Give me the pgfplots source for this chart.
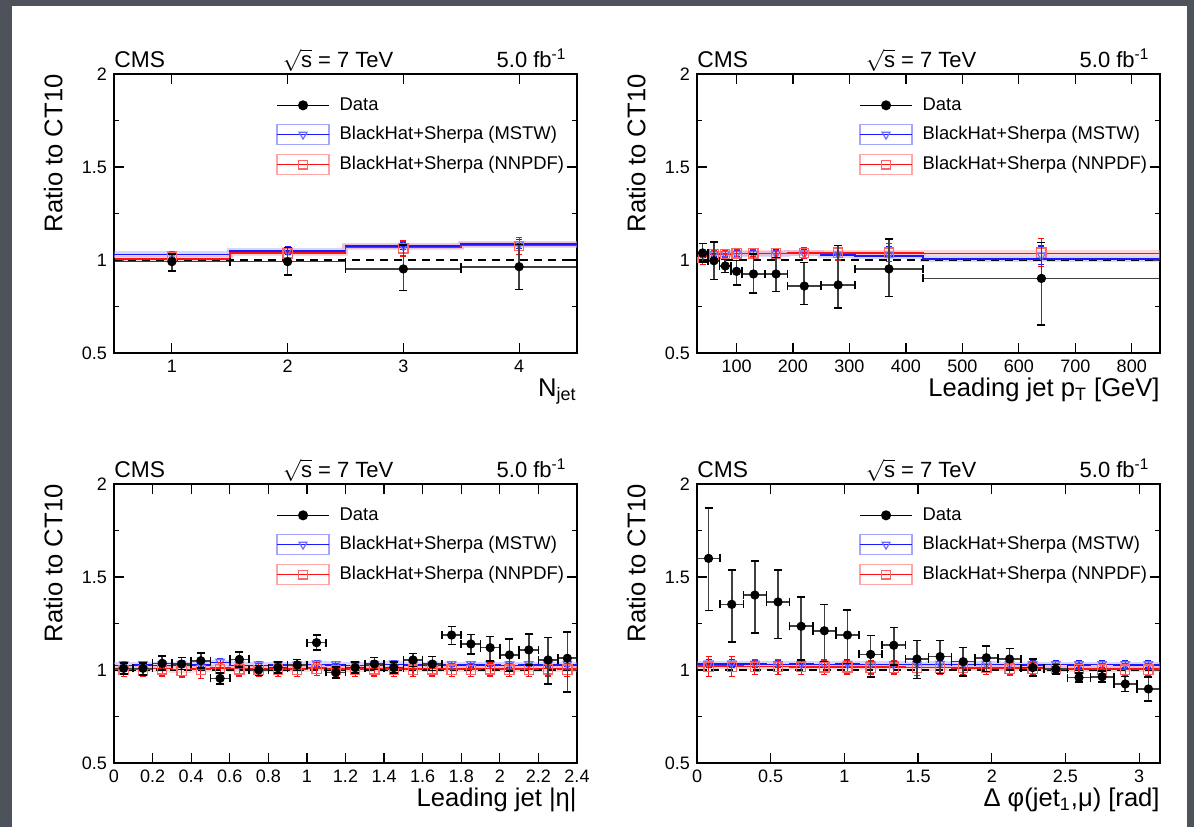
\documentclass[border=0pt]{standalone}
\usepackage{pgfplots}
\pgfplotsset{compat=1.18}
\usepackage{fontspec}
\setmainfont{Liberation Sans}
\definecolor{bggray}{RGB}{78,82,90}
\definecolor{mblue}{RGB}{25,25,255}
\definecolor{lblue}{RGB}{110,110,255}
\definecolor{bandblue}{RGB}{165,165,255}
\definecolor{mred}{RGB}{255,15,15}
\definecolor{lred}{RGB}{255,100,100}
\definecolor{bandred}{RGB}{255,165,165}

\pgfplotsset{
  cmsaxis/.style={
    scale only axis, width=231.5pt, height=139.5pt, anchor=south west,
    ymin=0.5, ymax=2, ytick={0.5,1,1.5,2}, minor y tick num=1,
    tick align=inside, major tick length=5pt, minor tick length=2.5pt,
    every tick/.append style={black, line width=0.6pt},
    axis line style={black, line width=0.7pt},
    tick label style={font=\fontsize{9}{10}\selectfont},
    /pgf/number format/assume math mode=true,
    /pgf/number format/1000 sep={},
    ylabel={Ratio to CT10},
    ylabel style={at={(axis description cs:-0.11,1)}, anchor=south east, inner sep=0pt, font=\fontsize{12.8}{14}\selectfont},
    xlabel style={at={(axis description cs:1,-0.155)}, anchor=base east, inner sep=0pt, font=\fontsize{12.8}{14}\selectfont},
    clip mode=individual,
    legend cell align=left,
    legend style={at={(axis description cs:0.35,0.925)}, anchor=north west, draw=none, fill=none, inner sep=0pt, row sep=4.2pt, column sep=5pt, nodes={inner sep=0pt}, font=\fontsize{9.2}{11}\selectfont},
  },
  legdata/.style={legend image code/.code={\path[draw=none, fill=none] (0pt,-5pt) rectangle (25.8pt,5pt);
     \draw[draw=black, line width=0.8pt, mark=*, mark size=2.1pt, mark options={draw=black, fill=black}, mark repeat=2, mark phase=2] plot coordinates {(0pt,0pt) (12.9pt,0pt) (25.8pt,0pt)};}},
  legmstw/.style={legend image code/.code={\draw[draw=bandblue, fill=none, line width=0.8pt] (0pt,-5pt) rectangle (25.8pt,5pt);
     \draw[draw=mblue, line width=0.8pt, mark=triangle, mark size=2.3pt, mark options={rotate=180, draw=lblue, fill=none, line width=0.6pt}, mark repeat=2, mark phase=2] plot coordinates {(0pt,0pt) (12.9pt,0pt) (25.8pt,0pt)};}},
  legnnpdf/.style={legend image code/.code={\draw[draw=bandred, fill=none, line width=0.8pt] (0pt,-5pt) rectangle (25.8pt,5pt);
     \draw[draw=mred, line width=0.8pt, mark=square, mark size=2.2pt, mark options={draw=lred, fill=none, line width=0.6pt}, mark repeat=2, mark phase=2] plot coordinates {(0pt,0pt) (12.9pt,0pt) (25.8pt,0pt)};}},
  datapts/.style={only marks, black, mark=*, mark size=2.1pt,
    error bars/x dir=both, error bars/x explicit, error bars/y dir=both, error bars/y explicit,
    error bars/error bar style={black!75, line width=0.8pt},
    error bars/error mark options={rotate=90, black, mark size=2pt, line width=0.8pt}},
  mstwpts/.style={only marks, mark=triangle, mark size=2.4pt,
    mark options={rotate=180, draw=lblue, line width=0.6pt},
    error bars/y dir=both, error bars/y explicit,
    error bars/error bar style={mblue, line width=0.6pt},
    error bars/error mark options={rotate=90, mblue, mark size=1.5pt, line width=0.6pt}},
  nnpdfpts/.style={only marks, mark=square, mark size=2.3pt,
    mark options={draw=lred, line width=0.6pt},
    error bars/y dir=both, error bars/y explicit,
    error bars/error bar style={mred, line width=0.6pt},
    error bars/error mark options={rotate=90, mred, mark size=1.5pt, line width=0.6pt}},
  mstwline/.style={const plot, mblue, line width=0.8pt},
  nnpdfline/.style={const plot, mred, line width=0.8pt},
  mstwband/.style={const plot, bandblue, line width=3pt, opacity=0.45},
  nnpdfband/.style={const plot, bandred, line width=3pt, opacity=0.45},
  unitline/.style={black, line width=0.8pt, dash pattern=on 4pt off 3pt},
}

\newcommand{\cmslegend}{%
  \addlegendimage{legdata}\addlegendentry{Data}
  \addlegendimage{legmstw}\addlegendentry{BlackHat+Sherpa (MSTW)}
  \addlegendimage{legnnpdf}\addlegendentry{BlackHat+Sherpa (NNPDF)}
}
\newcommand{\cmstitles}{%
  \node[anchor=base west, inner sep=0pt, font=\fontsize{11.4}{12}\selectfont] at (rel axis cs:0,1.023) {CMS};
  \node[anchor=base, inner sep=0pt, font=\fontsize{11}{12}\selectfont] at (rel axis cs:0.484,1.023) {$\sqrt{\hbox{s}}$ = 7 TeV};
  \node[anchor=base east, inner sep=0pt, font=\fontsize{11}{12}\selectfont] at (rel axis cs:0.978,1.023) {5.0 fb\textsuperscript{-1}};
}

\begin{document}
\begin{tikzpicture}
\path[use as bounding box] (0,0) rectangle (597pt,413.5pt);
\fill[bggray] (0,0) rectangle (597pt,413.5pt);
\fill[white] (6pt,0) rectangle (593.5pt,410.5pt);

% ---------------- Panel 1: N_jet
\begin{axis}[cmsaxis, at={(57pt,237pt)}, xmin=0.5, xmax=4.5, xtick={1,2,3,4}, xlabel={N\textsubscript{jet}}]
\cmslegend
\addplot[forget plot, mstwband] coordinates {(0.5,1.030) (1.5,1.050) (2.5,1.075) (3.5,1.085) (4.5,1.085)};
\addplot[forget plot, nnpdfband] coordinates {(0.5,1.007) (1.5,1.038) (2.5,1.068) (3.5,1.079) (4.5,1.079)};
\addplot[forget plot, unitline] coordinates {(0.5,1) (4.5,1)};
\addplot[forget plot, mstwline] coordinates {(0.5,1.030) (1.5,1.050) (2.5,1.075) (3.5,1.085) (4.5,1.085)};
\addplot[forget plot, nnpdfline] coordinates {(0.5,1.007) (1.5,1.038) (2.5,1.068) (3.5,1.079) (4.5,1.079)};
\addplot[forget plot, mstwpts] table[x=x, y=y, y error=e] {
x y e
1 1.030 0.015
2 1.050 0.020
3 1.075 0.020
4 1.085 0.025
};
\addplot[forget plot, nnpdfpts] table[x=x, y=y, y error=e] {
x y e
1 1.015 0.020
2 1.035 0.030
3 1.062 0.040
4 1.075 0.045
};
\addplot[forget plot, datapts] table[x=x, y=y, x error=ex, y error plus=ep, y error minus=em] {
x y ex ep em
1 0.991 0.5 0.040 0.050
2 0.991 0.5 0.077 0.072
3 0.952 0.5 0.130 0.117
4 0.964 0.5 0.120 0.122
};
\cmstitles
\end{axis}

% ---------------- Panel 2: leading jet pT
\begin{axis}[cmsaxis, at={(348.5pt,237pt)}, xmin=30, xmax=850, xtick={100,200,300,400,500,600,700,800}, xlabel={Leading jet p\textsubscript{T} [GeV]}]
\cmslegend
\addplot[forget plot, mstwband] coordinates {(30,1.030) (50,1.032) (70,1.033) (90,1.034) (110,1.034) (150,1.034) (190,1.035) (250,1.028) (310,1.022) (430,1.004) (850,1.004)};
\addplot[forget plot, nnpdfband] coordinates {(30,1.020) (50,1.030) (70,1.033) (90,1.035) (110,1.036) (150,1.036) (190,1.037) (250,1.038) (310,1.038) (430,1.036) (850,1.036)};
\addplot[forget plot, unitline] coordinates {(30,1) (850,1)};
\addplot[forget plot, mstwline] coordinates {(30,1.030) (50,1.032) (70,1.033) (90,1.034) (110,1.034) (150,1.034) (190,1.035) (250,1.028) (310,1.022) (430,1.004) (850,1.004)};
\addplot[forget plot, nnpdfline] coordinates {(30,1.020) (50,1.030) (70,1.033) (90,1.035) (110,1.036) (150,1.036) (190,1.037) (250,1.038) (310,1.038) (430,1.036) (850,1.036)};
\addplot[forget plot, mstwpts] table[x=x, y=y, y error=e] {
x y e
40 1.030 0.015
60 1.032 0.015
80 1.033 0.015
100 1.034 0.015
130 1.034 0.015
170 1.034 0.020
220 1.035 0.020
280 1.030 0.030
370 1.030 0.040
640 1.025 0.050
};
\addplot[forget plot, nnpdfpts] table[x=x, y=y, y error=e] {
x y e
40 1.012 0.035
60 1.030 0.020
80 1.033 0.020
100 1.035 0.020
130 1.036 0.020
170 1.036 0.025
220 1.037 0.030
280 1.040 0.040
370 1.040 0.050
640 1.040 0.075
};
\addplot[forget plot, datapts] table[x=x, y=y, x error=ex, y error plus=ep, y error minus=em] {
x y ex ep em
40 1.038 10 0.050 0.050
60 0.996 10 0.100 0.100
80 0.968 10 0.035 0.035
100 0.939 10 0.058 0.072
130 0.925 20 0.107 0.102
170 0.925 20 0.089 0.094
220 0.860 30 0.127 0.100
280 0.866 30 0.211 0.124
370 0.952 60 0.161 0.149
640 0.901 210 0.194 0.249
};
\cmstitles
\end{axis}

% ---------------- Panel 3: leading jet |eta|
\begin{axis}[cmsaxis, at={(57pt,32pt)}, xmin=0, xmax=2.4, xtick={0,0.2,0.4,0.6,0.8,1,1.2,1.4,1.6,1.8,2,2.2,2.4}, xlabel={Leading jet |η|}]
\cmslegend
\addplot[forget plot, mstwband] coordinates {(0,1.025) (0.1,1.027) (0.2,1.025) (0.3,1.028) (0.4,1.026) (0.5,1.040) (0.6,1.025) (0.7,1.025) (0.8,1.027) (0.9,1.025) (1.0,1.030) (1.1,1.027) (1.2,1.025) (1.3,1.028) (1.4,1.030) (1.5,1.027) (1.6,1.025) (1.7,1.027) (1.8,1.026) (1.9,1.028) (2.0,1.025) (2.1,1.027) (2.2,1.026) (2.3,1.028) (2.4,1.028)};
\addplot[forget plot, nnpdfband] coordinates {(0,1.005) (0.1,1.003) (0.2,1.008) (0.3,1.002) (0.4,1.005) (0.5,1.010) (0.6,1.008) (0.7,1.006) (0.8,1.007) (0.9,1.005) (1.0,1.010) (1.1,1.006) (1.2,1.005) (1.3,1.008) (1.4,1.006) (1.5,1.007) (1.6,1.008) (1.7,1.007) (1.8,1.006) (1.9,1.008) (2.0,1.007) (2.1,1.006) (2.2,1.008) (2.3,1.007) (2.4,1.007)};
\addplot[forget plot, unitline] coordinates {(0,1) (2.4,1)};
\addplot[forget plot, mstwline] coordinates {(0,1.025) (0.1,1.027) (0.2,1.025) (0.3,1.028) (0.4,1.026) (0.5,1.040) (0.6,1.025) (0.7,1.025) (0.8,1.027) (0.9,1.025) (1.0,1.030) (1.1,1.027) (1.2,1.025) (1.3,1.028) (1.4,1.030) (1.5,1.027) (1.6,1.025) (1.7,1.027) (1.8,1.026) (1.9,1.028) (2.0,1.025) (2.1,1.027) (2.2,1.026) (2.3,1.028) (2.4,1.028)};
\addplot[forget plot, nnpdfline] coordinates {(0,1.005) (0.1,1.003) (0.2,1.008) (0.3,1.002) (0.4,1.005) (0.5,1.010) (0.6,1.008) (0.7,1.006) (0.8,1.007) (0.9,1.005) (1.0,1.010) (1.1,1.006) (1.2,1.005) (1.3,1.008) (1.4,1.006) (1.5,1.007) (1.6,1.008) (1.7,1.007) (1.8,1.006) (1.9,1.008) (2.0,1.007) (2.1,1.006) (2.2,1.008) (2.3,1.007) (2.4,1.007)};
\addplot[forget plot, mstwpts] table[x=x, y=y, y error=e] {
x y e
0.05 1.030 0.015
0.15 1.032 0.015
0.25 1.030 0.015
0.35 1.033 0.015
0.45 1.031 0.015
0.55 1.045 0.015
0.65 1.030 0.015
0.75 1.030 0.015
0.85 1.032 0.015
0.95 1.030 0.015
1.05 1.035 0.015
1.15 1.032 0.015
1.25 1.030 0.015
1.35 1.033 0.015
1.45 1.035 0.015
1.55 1.032 0.015
1.65 1.030 0.015
1.75 1.032 0.015
1.85 1.031 0.015
1.95 1.033 0.015
2.05 1.030 0.015
2.15 1.032 0.015
2.25 1.031 0.015
2.35 1.033 0.015
};
\addplot[forget plot, nnpdfpts] table[x=x, y=y, y error=e] {
x y e
0.05 1.000 0.035
0.15 0.998 0.035
0.25 1.003 0.035
0.35 0.997 0.035
0.45 1.000 0.045
0.55 1.005 0.035
0.65 1.003 0.035
0.75 1.001 0.035
0.85 1.002 0.035
0.95 1.000 0.035
1.05 1.005 0.035
1.15 1.001 0.035
1.25 1.000 0.035
1.35 1.003 0.035
1.45 1.001 0.035
1.55 1.002 0.035
1.65 1.003 0.035
1.75 1.002 0.035
1.85 1.001 0.035
1.95 1.003 0.035
2.05 1.002 0.035
2.15 1.001 0.035
2.25 1.003 0.035
2.35 1.002 0.035
};
\addplot[forget plot, datapts] table[x=x, y=y, x error=ex, y error plus=ep, y error minus=em] {
x y ex ep em
0.05 1.009 0.05 0.030 0.030
0.15 1.009 0.05 0.030 0.035
0.25 1.036 0.05 0.040 0.035
0.35 1.032 0.05 0.035 0.030
0.45 1.050 0.05 0.040 0.040
0.55 0.955 0.05 0.030 0.030
0.65 1.057 0.05 0.040 0.040
0.75 1.000 0.05 0.025 0.030
0.85 1.0125 0.05 0.030 0.030
0.95 1.027 0.05 0.030 0.030
1.05 1.147 0.05 0.040 0.040
1.15 0.987 0.05 0.030 0.030
1.25 1.0125 0.05 0.030 0.030
1.35 1.032 0.05 0.035 0.030
1.45 1.0125 0.05 0.030 0.030
1.55 1.054 0.05 0.035 0.035
1.65 1.032 0.05 0.040 0.035
1.75 1.188 0.05 0.045 0.050
1.85 1.140 0.05 0.050 0.055
1.95 1.120 0.05 0.060 0.070
2.05 1.081 0.05 0.085 0.090
2.15 1.108 0.05 0.085 0.080
2.25 1.054 0.05 0.120 0.130
2.35 1.063 0.05 0.140 0.180
};
\cmstitles
\end{axis}

% ---------------- Panel 4: delta phi
\begin{axis}[cmsaxis, at={(348.5pt,32pt)}, xmin=0, xmax=3.14159, xtick={0,0.5,1,1.5,2,2.5,3}, xlabel={Δ φ(jet\textsubscript{1},μ) [rad]}]
\cmslegend
\addplot[forget plot, mstwband] coordinates {(0,1.032) (0.15708,1.033) (0.31416,1.031) (0.47124,1.030) (0.62832,1.031) (0.7854,1.030) (0.94248,1.031) (1.09956,1.030) (1.25664,1.030) (1.41372,1.029) (1.5708,1.030) (1.72788,1.029) (1.88496,1.030) (2.04204,1.029) (2.19911,1.028) (2.35619,1.029) (2.51327,1.028) (2.67035,1.029) (2.82743,1.028) (2.98451,1.028) (3.14159,1.028)};
\addplot[forget plot, nnpdfband] coordinates {(0,1.020) (0.15708,1.020) (0.31416,1.018) (0.47124,1.018) (0.62832,1.017) (0.7854,1.016) (0.94248,1.016) (1.09956,1.015) (1.25664,1.015) (1.41372,1.014) (1.5708,1.013) (1.72788,1.012) (1.88496,1.012) (2.04204,1.010) (2.19911,1.010) (2.35619,1.008) (2.51327,1.006) (2.67035,1.005) (2.82743,1.004) (2.98451,1.004) (3.14159,1.004)};
\addplot[forget plot, unitline] coordinates {(0,1) (3.14159,1)};
\addplot[forget plot, mstwline] coordinates {(0,1.032) (0.15708,1.033) (0.31416,1.031) (0.47124,1.030) (0.62832,1.031) (0.7854,1.030) (0.94248,1.031) (1.09956,1.030) (1.25664,1.030) (1.41372,1.029) (1.5708,1.030) (1.72788,1.029) (1.88496,1.030) (2.04204,1.029) (2.19911,1.028) (2.35619,1.029) (2.51327,1.028) (2.67035,1.029) (2.82743,1.028) (2.98451,1.028) (3.14159,1.028)};
\addplot[forget plot, nnpdfline] coordinates {(0,1.020) (0.15708,1.020) (0.31416,1.018) (0.47124,1.018) (0.62832,1.017) (0.7854,1.016) (0.94248,1.016) (1.09956,1.015) (1.25664,1.015) (1.41372,1.014) (1.5708,1.013) (1.72788,1.012) (1.88496,1.012) (2.04204,1.010) (2.19911,1.010) (2.35619,1.008) (2.51327,1.006) (2.67035,1.005) (2.82743,1.004) (2.98451,1.004) (3.14159,1.004)};
\addplot[forget plot, mstwpts] table[x=x, y=y, y error=e] {
x y e
0.07854 1.035 0.020
0.23562 1.036 0.020
0.3927 1.034 0.020
0.54978 1.033 0.020
0.70686 1.034 0.020
0.86394 1.033 0.020
1.02102 1.034 0.020
1.1781 1.033 0.020
1.33518 1.033 0.020
1.49226 1.032 0.020
1.64934 1.033 0.020
1.80642 1.032 0.020
1.9635 1.033 0.020
2.12058 1.032 0.020
2.27765 1.031 0.020
2.43473 1.032 0.020
2.59181 1.031 0.020
2.74889 1.032 0.020
2.90597 1.031 0.020
3.06305 1.031 0.020
};
\addplot[forget plot, nnpdfpts] table[x=x, y=y, y error=e] {
x y e
0.07854 1.018 0.055
0.23562 1.018 0.055
0.3927 1.016 0.040
0.54978 1.016 0.040
0.70686 1.015 0.040
0.86394 1.014 0.040
1.02102 1.014 0.035
1.1781 1.013 0.035
1.33518 1.013 0.035
1.49226 1.012 0.040
1.64934 1.011 0.035
1.80642 1.010 0.035
1.9635 1.010 0.035
2.12058 1.008 0.035
2.27765 1.008 0.030
2.43473 1.006 0.030
2.59181 1.004 0.030
2.74889 1.003 0.030
2.90597 1.002 0.030
3.06305 1.002 0.030
};
\addplot[forget plot, datapts] table[x=x, y=y, x error=ex, y error plus=ep, y error minus=em] {
x y ex ep em
0.07854 1.600 0.07854 0.270 0.280
0.23562 1.353 0.07854 0.185 0.204
0.3927 1.403 0.07854 0.183 0.203
0.54978 1.366 0.07854 0.172 0.196
0.70686 1.235 0.07854 0.156 0.181
0.86394 1.211 0.07854 0.142 0.166
1.02102 1.188 0.07854 0.135 0.152
1.1781 1.084 0.07854 0.102 0.120
1.33518 1.133 0.07854 0.096 0.106
1.49226 1.059 0.07854 0.099 0.104
1.64934 1.072 0.07854 0.086 0.090
1.80642 1.045 0.07854 0.077 0.077
1.9635 1.066 0.07854 0.063 0.075
2.12058 1.059 0.07854 0.057 0.059
2.27765 1.013 0.07854 0.045 0.045
2.43473 1.004 0.07854 0.025 0.025
2.59181 0.959 0.07854 0.025 0.025
2.74889 0.964 0.07854 0.030 0.030
2.90597 0.925 0.07854 0.040 0.040
3.06305 0.898 0.07854 0.065 0.065
};
\cmstitles
\end{axis}
\end{tikzpicture}
\end{document}
